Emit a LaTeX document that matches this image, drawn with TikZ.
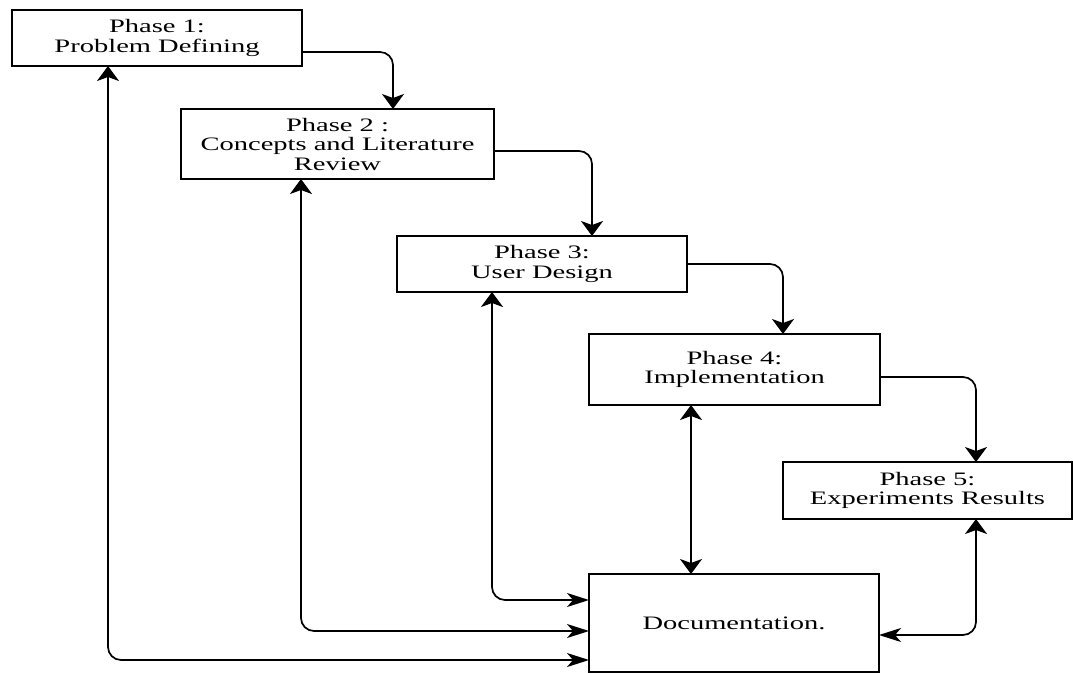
\documentclass[tikz,border=0pt]{standalone}
\usepackage{fontspec}
\setmainfont{Liberation Serif}[FakeStretch=1.5]
\usetikzlibrary{arrows.meta,calc}
\begin{document}
\begin{tikzpicture}[x=1pt,y=-1pt,
  phasebox/.style={draw, line width=1.7pt, rectangle, inner sep=0pt, outer sep=0pt,
    align=center, font=\fontsize{19pt}{19.5pt}\selectfont, text=black},
  conn/.style={line width=1.7pt, rounded corners=13pt},
  vtip/.tip={Stealth[length=15pt,width=22pt,inset=4pt]},
  htip/.tip={Stealth[length=22pt,width=14pt,inset=6pt]}
]
\useasboundingbox (0,0) rectangle (1073,673);
\node[phasebox, minimum width=290pt, minimum height=56pt] (p1) at (157,38) {Phase 1:\\Problem Defining};
\node[phasebox, minimum width=313pt, minimum height=70pt] (p2) at (337.5,144) {Phase 2 :\\Concepts and Literature\\Review};
\node[phasebox, minimum width=290pt, minimum height=56pt] (p3) at (542,264) {Phase 3:\\User Design};
\node[phasebox, minimum width=291pt, minimum height=71pt] (p4) at (734.5,369.5) {Phase 4:\\Implementation};
\node[phasebox, minimum width=289pt, minimum height=57pt] (p5) at (927.5,490.5) {Phase 5:\\Experiments Results};
\node[phasebox, minimum width=290pt, minimum height=98pt] (doc) at (734,623) {Documentation.};

% forward connectors
\draw[conn,-{vtip}] ($(p1.east)+(0,14)$) -| ($(p2.north)+(55.5,0)$);
\draw[conn,-{vtip}] ($(p2.east)+(0,7)$) -| ($(p3.north)+(50,0)$);
\draw[conn,-{vtip}] (p3.east) -| ($(p4.north)+(48.5,0)$);
\draw[conn,-{vtip}] ($(p4.east)+(0,7.5)$) -| ($(p5.north)+(48.5,0)$);

% links to documentation
\draw[conn,{vtip}-{htip}] ($(p1.south)+(-49,0)$) |- ($(doc.west)+(0,37)$);
\draw[conn,{vtip}-{htip}] ($(p2.south)+(-36.5,0)$) |- ($(doc.west)+(0,8)$);
\draw[conn,{vtip}-{htip}] ($(p3.south)+(-50,0)$) |- ($(doc.west)+(0,-23)$);
\coordinate (t4) at ($(p4.south)+(-43.5,0)$);
\draw[conn,{vtip}-{vtip}] (t4) -- (t4 |- doc.north);
\draw[conn,{vtip}-{htip}] ($(p5.south)+(48.5,0)$) |- ($(doc.east)+(0,12)$);
\end{tikzpicture}
\end{document}
